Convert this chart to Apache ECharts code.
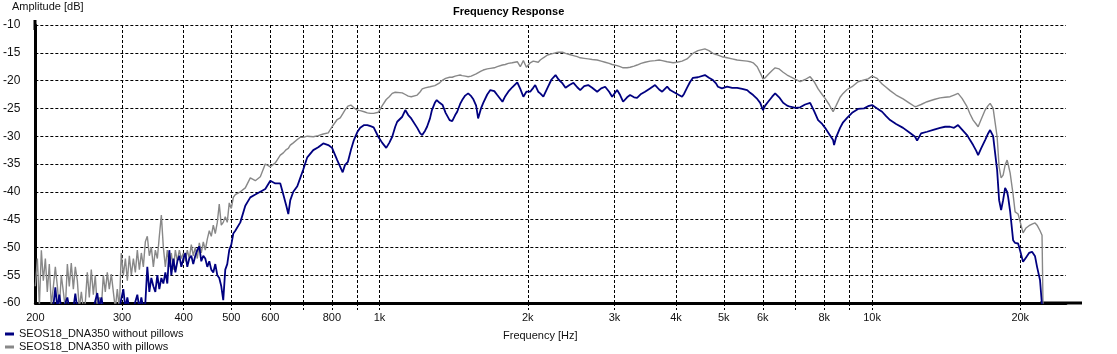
<!DOCTYPE html>
<html>
<head>
<meta charset="utf-8">
<script src="https://cdn.jsdelivr.net/npm/echarts@6/dist/echarts.min.js"></script>
<style>
  html, body { margin: 0; padding: 0; background: #fff; }
  #chart { width: 1117px; height: 354px; }
</style>
</head>
<body>
<div id="chart"></div>
<script>
// Frequency axis samples (Hz), shared by both measurements
var freqsHz = [
  // 200 - 340 Hz
  200, 201.9, 203.8, 205.7, 207.6, 209.6, 211.5, 213.5, 215.5, 217.6,
  219.6, 221.7, 223.7, 225.8, 228, 230.1, 232.3, 234.4, 236.6, 238.9,
  241.1, 243.4, 245.6, 248, 250.3, 252.6, 255, 257.4, 259.8, 262.3,
  264.7, 267.2, 269.7, 272.3, 274.8, 277.4, 280, 282.6, 285.3, 288,
  290.7, 293.4, 296.2, 298.9, 301.8, 304.7, 307.5, 310.4, 313.3, 316.3,
  319.2, 322.2, 325.3, 328.3, 331.4, 334.5, 337.6,
  // 340 - 510 Hz
  340.8, 344, 347.3, 350.5, 353.8, 357.1, 360.5, 363.9, 367.3, 370.7,
  374.2, 377.7, 381.3, 384.9, 388.5, 392.1, 395.8, 399.6, 403.2, 407,
  410.8, 414.7, 418.5, 422.5, 426.5, 430.5, 434.5, 438.6, 442.7, 446.9,
  451.1, 455.3, 459.6, 463.9, 468.3, 472.6, 477.1, 481.5, 486.1, 490.6,
  495.2, 500, 504.7, 509.4,
  // 520 Hz - 22 kHz
  521.5, 533.8, 546.4, 559.4, 572.6, 586.1, 600, 614.2, 628.7, 637.6,
  646.6, 652.7, 658.8, 668.1, 680.7, 690.3, 700, 713.2, 733.5, 750.8,
  768.6, 786.8, 800.8, 820.4, 832, 841.6, 850.5, 862.5, 874.6, 887,
  900.8, 913.5, 930.6, 944.3, 958.7, 972.8, 994, 1012.7, 1031.8, 1046.4,
  1061, 1076, 1086, 1112, 1128, 1143.5, 1159.6, 1170.4, 1192.6, 1209.4,
  1220.8, 1237.3, 1248.7, 1266, 1277.5, 1295, 1306.5, 1324.6, 1343, 1361.9,
  1387.5, 1404.5, 1424.3, 1437.7, 1457.6, 1471.5, 1492.4, 1513.2, 1534.8, 1549,
  1570.8, 1585.5, 1607, 1624, 1654.5, 1678.6, 1710, 1734, 1776.5, 1800,
  1825.6, 1859.8, 1904, 1931, 1959, 1986.8, 2022.6, 2051.4, 2070.6, 2099.8,
  2119.6, 2150.8, 2193, 2234.6, 2277, 2309, 2352.6, 2385.8, 2430.6, 2476,
  2520, 2555.4, 2603.6, 2652.6, 2702.5, 2766.4, 2818.5, 2871.4, 2925.6, 2966.8,
  3036.6, 3079.5, 3122.8, 3181.8, 3226.8, 3287, 3334, 3396.6, 3460, 3542,
  3626.6, 3696, 3749, 3837, 3891, 3946, 4020.6, 4114, 4152, 4210,
  4268, 4329, 4431, 4578, 4665, 4753, 4821, 4866, 4958, 5080,
  5200, 5323, 5449, 5578, 5657, 5737, 5846, 5929, 6006, 6068,
  6153, 6269, 6358, 6478, 6600, 6725, 6820, 6994, 7146, 7314,
  7488, 7629, 7772, 7920, 8030, 8182, 8336, 8375, 8454, 8613,
  8735, 8900, 9110, 9369, 9636, 9817, 10005, 10241, 10483, 10681,
  10883, 11192, 11564, 11893, 12231, 12347, 12580, 12938, 13366, 13748,
  14073, 14405, 14676, 14953, 15236, 15593, 15816, 16045, 16272, 16424,
  16656, 16970, 17210, 17371, 17618, 17780, 17950, 18118, 18288, 18460,
  18634, 18809, 18897, 19075, 19343, 19525, 19800, 19980, 20263, 20550,
  20840, 21134, 21433, 21635, 21939, 22144, 22250
];

// SEOS18_DNA350 without pillows (dB)
var withoutPillowsDb = [
  -61, -61, -61, -61, -61, -61, -61, -61, -61, -60.5,
  -57.2, -61, -58.5, -61, -61, -61, -59, -61, -61, -61,
  -58.3, -61, -61, -61, -61, -61, -61, -61, -61, -61,
  -61, -58.2, -61, -59, -61, -61, -61, -61, -61, -61,
  -61, -61, -61, -61, -57.5, -61, -59, -61, -61, -61,
  -61, -58.5, -61, -59, -61, -60, -53.5,

  -58, -55.5, -57, -58, -55, -57.5, -55.5, -56.5, -54.5, -56.5,
  -50.5, -55, -52, -54.5, -52.5, -51.5, -53.5, -52, -51, -53.5,
  -52, -51.5, -53, -51.5, -50.5, -49.8, -52.5, -51.5, -52, -53.5,
  -52.5, -54, -54.5, -53, -55, -55.5, -57, -59.5, -54, -53,
  -50.5, -49.5, -47.5, -47,

  -45.5, -42.5, -41, -40.5, -40, -39.5, -38, -38.5, -38.5, -40.5,
  -42.5, -44, -41.5, -40, -39, -37.5, -36, -33.8, -32.5, -32,
  -31.3, -31.6, -32.1, -34.3, -35.5, -36.5, -35.2, -34.6, -32.5, -30.7,
  -29.3, -28.5, -28, -28, -28.2, -28.4, -30.1, -31.2, -32.1, -31.2,
  -30.1, -28.3, -27.4, -26.5, -25.3, -26.2, -26.8, -27, -28.5, -29.5,
  -29.8, -29, -28.3, -26.8, -25.3, -24, -23.5, -24, -24.4, -25.8,
  -27.1, -27.3, -26.2, -25.6, -24.2, -23.5, -22.7, -22.3, -22.8, -23.3,
  -24.5, -26.8, -25, -24, -22.5, -21.7, -21.9, -22.6, -23.8, -22.8,
  -22, -21.2, -20.3, -21.5, -22.9, -22, -22, -21.3, -20.8, -22,
  -22.3, -22.9, -21.3, -19.8, -19, -19.8, -20.5, -21.3, -20.8, -20.4,
  -21.2, -21.7, -21, -20.8, -21.3, -22, -21.4, -21.1, -22, -22.9,
  -21.7, -22.6, -23.8, -23, -22.6, -23, -23.1, -22.4, -22, -21.4,
  -20.8, -21.6, -22, -21.1, -21.7, -22, -22.4, -22.9, -22.4, -21.3,
  -20.3, -19.5, -19.4, -19, -19.5, -19.9, -20.5, -21.1, -21.4, -21.1,
  -21.3, -21.3, -21.5, -21.7, -22.2, -22.6, -23.3, -24, -25.3, -24.5,
  -23.8, -22.9, -22.3, -23, -24, -24.5, -24.7, -24.9, -24.8, -24.3,
  -24, -25.5, -27.1, -27.8, -28.5, -29.6, -30.7, -31.6, -30.2, -28.5,
  -27.5, -26.7, -25.8, -25.1, -25, -24.6, -24.4, -25, -25.6, -26.4,
  -27.1, -27.8, -28.5, -29.3, -30.1, -30.8, -29.5, -29.2, -28.8, -28.5,
  -28.3, -28.3, -28.5, -28, -28.8, -29.8, -30.7, -31.6, -32.6, -33.4,
  -32.2, -30.7, -29.5, -28.9, -30, -33, -36.1, -41.5, -43.3, -41.5,
  -39.3, -40, -40.9, -43.5, -48.7, -49.2, -49.3, -50.5, -52.6, -51.8,
  -51, -50.8, -51.6, -53.5, -55.9, -60.5, -61
];

// SEOS18_DNA350 with pillows (dB)
var withPillowsDb = [
  -57, -52, -60.5, -50.5, -56, -52, -58, -53, -60.5, -57,
  -53.5, -57, -61, -55, -58, -61, -53, -57, -52.8, -57.5,
  -53.5, -56, -61, -58, -61, -60, -54.5, -59, -54, -58.5,
  -55, -61, -59, -61, -55, -58, -54.5, -57.5, -54.8, -58,
  -61, -57.5, -61, -51, -55, -52, -56, -51.5, -55, -52,
  -54.5, -50.5, -54, -51, -53.5, -49, -48,

  -51.5, -50, -53.5, -50.5, -52, -48, -44.2, -50, -53.5, -50.5,
  -53.5, -51, -54, -50.5, -52.5, -50.5, -52, -51, -52.5, -50.5,
  -52, -49.5, -51.5, -50, -52, -49.2, -51, -49, -50.5, -48.5,
  -47, -48, -46, -47.5, -45.5, -42.2, -46, -45.5, -44.5, -45.5,
  -42, -43, -41, -40.5,

  -40, -39.3, -37.5, -38, -37.3, -35, -35.5, -34.8, -33.4, -33,
  -32.4, -32.2, -31.6, -31.2, -30.6, -30.2, -30.2, -30, -30.1, -29.9,
  -29.6, -29.4, -28.3, -27, -26.7, -26, -25.3, -24.6, -24.4, -24.9,
  -25.3, -25.4, -25.6, -25.8, -25.9, -25.9, -25.7, -24.5, -23.4, -22.9,
  -22.3, -22.1, -21.9, -22.2, -22.5, -22.8, -22.9, -23, -22.6, -22,
  -21.5, -21.3, -21.2, -21.1, -21, -20.9, -20.8, -20.4, -19.9, -19.6,
  -19.4, -19.4, -19.2, -19.1, -19, -19.1, -19.2, -19.3, -19.2, -19.2,
  -18.8, -18.6, -18.3, -18.1, -17.9, -17.8, -17.7, -17.5, -17.2, -17.1,
  -16.9, -16.8, -16.6, -17.5, -16.4, -17.6, -16.8, -16.5, -16.7, -16.7,
  -16.3, -15.9, -15.4, -15.2, -15, -14.9, -14.9, -15.1, -15.3, -15.5,
  -15.7, -15.9, -16, -16.1, -16.2, -16.3, -16.5, -16.7, -16.9, -17.1,
  -17.3, -17.5, -17.7, -17.7, -17.6, -17.4, -17.2, -16.9, -16.7, -16.5,
  -16.4, -16.3, -16.4, -16.6, -16.7, -16.8, -16.7, -16.5, -16.4, -16.1,
  -15.6, -15.1, -14.6, -14.3, -14.6, -15.1, -15.3, -15.5, -15.7, -15.9,
  -16.1, -16.3, -16.4, -16.5, -16.6, -16.8, -17.5, -18.6, -19.7, -19.5,
  -18.9, -18.2, -17.7, -17.9, -18.5, -19, -19.3, -19.8, -20.2, -19.8,
  -19.3, -20.2, -21.5, -22.5, -23.2, -24.3, -25.6, -25.4, -24.5, -23,
  -22.3, -21.6, -21.1, -20.2, -19.9, -19.7, -19.2, -19.6, -20.6, -21.2,
  -21.8, -22.6, -23.3, -24, -24.7, -24.6, -24.3, -23.8, -23.4, -23.1,
  -23, -22.9, -22.6, -22.3, -23.2, -24.7, -26, -27.1, -27.8, -28.3,
  -27, -25.3, -24.5, -24.1, -25, -27.5, -30.1, -35.5, -37.5, -37,
  -35.2, -34.3, -35, -36.6, -40.5, -43.6, -44, -44.2, -47.4, -46.5,
  -46.1, -45.8, -45.6, -46, -47, -47.8, -61
];

// Axis ticks
var freqLabelValues = [200, 300, 400, 500, 600, 800, 1000, 2000, 3000, 4000, 5000, 6000, 8000, 10000, 20000];
var freqGridValues = [300, 400, 500, 600, 700, 800, 900, 1000, 2000, 3000, 4000, 5000, 6000, 7000, 8000, 9000, 10000, 20000];

var seriesNames = ['SEOS18_DNA350 without pillows', 'SEOS18_DNA350 with pillows'];

function pairUp(xs, ys) {
    var out = [];
    for (var i = 0; i < xs.length && i < ys.length; i++) {
        out.push([xs[i], ys[i]]);
    }
    return out;
}

var chart = echarts.init(document.getElementById('chart'), null, { renderer: 'canvas' });

var fontFamily = '"Liberation Sans", Arial, sans-serif';
var dashed = [3, 2];

chart.setOption({
    animation: false,
    textStyle: { fontFamily: fontFamily },
    title: [
        {
            text: 'Frequency Response',
            left: 453, top: 6, padding: 0,
            textStyle: { fontSize: 11, fontWeight: 'bold', color: '#000', fontFamily: fontFamily }
        },
        {
            text: 'Amplitude [dB]',
            left: 12, top: 1, padding: 0,
            textStyle: { fontSize: 11, fontWeight: 'normal', color: '#111', fontFamily: fontFamily }
        },
        {
            text: 'Frequency [Hz]',
            left: 503, top: 330, padding: 0,
            textStyle: { fontSize: 11, fontWeight: 'normal', color: '#111', fontFamily: fontFamily }
        }
    ],
    legend: {
        orient: 'vertical',
        left: 5, top: 328,
        padding: 0,
        icon: 'rect',
        itemWidth: 9, itemHeight: 3,
        itemGap: 1,
        textStyle: { fontSize: 11, color: '#111', lineHeight: 12 },
        data: seriesNames
    },
    grid: { left: 35, top: 25, right: 51, bottom: 51, containLabel: false },
    graphic: [
        {
            // the plot frame runs a little past the last grid column / top grid row
            type: 'rect',
            shape: { x: 1040, y: 301.5, width: 42, height: 3 },
            style: { fill: '#000' },
            silent: true
        },
        {
            type: 'rect',
            shape: { x: 33.5, y: 20, width: 3, height: 10 },
            style: { fill: '#000' },
            silent: true
        }
    ],
    xAxis: {
        type: 'log',
        logBase: 10,
        min: 200,
        max: 24770,
        axisLine: { show: true, lineStyle: { color: '#000', width: 3 } },
        axisTick: {
            show: true, length: 7, inside: false,
            customValues: freqGridValues,
            lineStyle: { color: '#000', width: 1, type: dashed }
        },
        axisLabel: {
            customValues: freqLabelValues,
            color: '#111', fontSize: 11, margin: 9,
            formatter: function (v) { return v >= 1000 ? (v / 1000) + 'k' : String(v); }
        },
        splitLine: { show: true, lineStyle: { color: '#000', width: 1, type: dashed } },
        minorSplitLine: { show: false }
    },
    yAxis: {
        type: 'value',
        min: -60, max: -10, interval: 5,
        axisLine: { show: true, lineStyle: { color: '#000', width: 3 } },
        axisTick: { show: false },
        axisLabel: { color: '#111', fontSize: 12, margin: 15 },
        splitLine: { show: true, lineStyle: { color: '#000', width: 1, type: dashed } }
    },
    series: [
        {
            name: seriesNames[0],
            type: 'line',
            data: pairUp(freqsHz, withoutPillowsDb),
            showSymbol: false,
            clip: true,
            z: 4,
            color: '#000080',
            lineStyle: { color: '#000080', width: 1.8 }
        },
        {
            name: seriesNames[1],
            type: 'line',
            data: pairUp(freqsHz, withPillowsDb),
            showSymbol: false,
            clip: true,
            z: 3,
            color: '#888888',
            lineStyle: { color: '#888888', width: 1.4 }
        }
    ]
});
</script>
</body>
</html>
